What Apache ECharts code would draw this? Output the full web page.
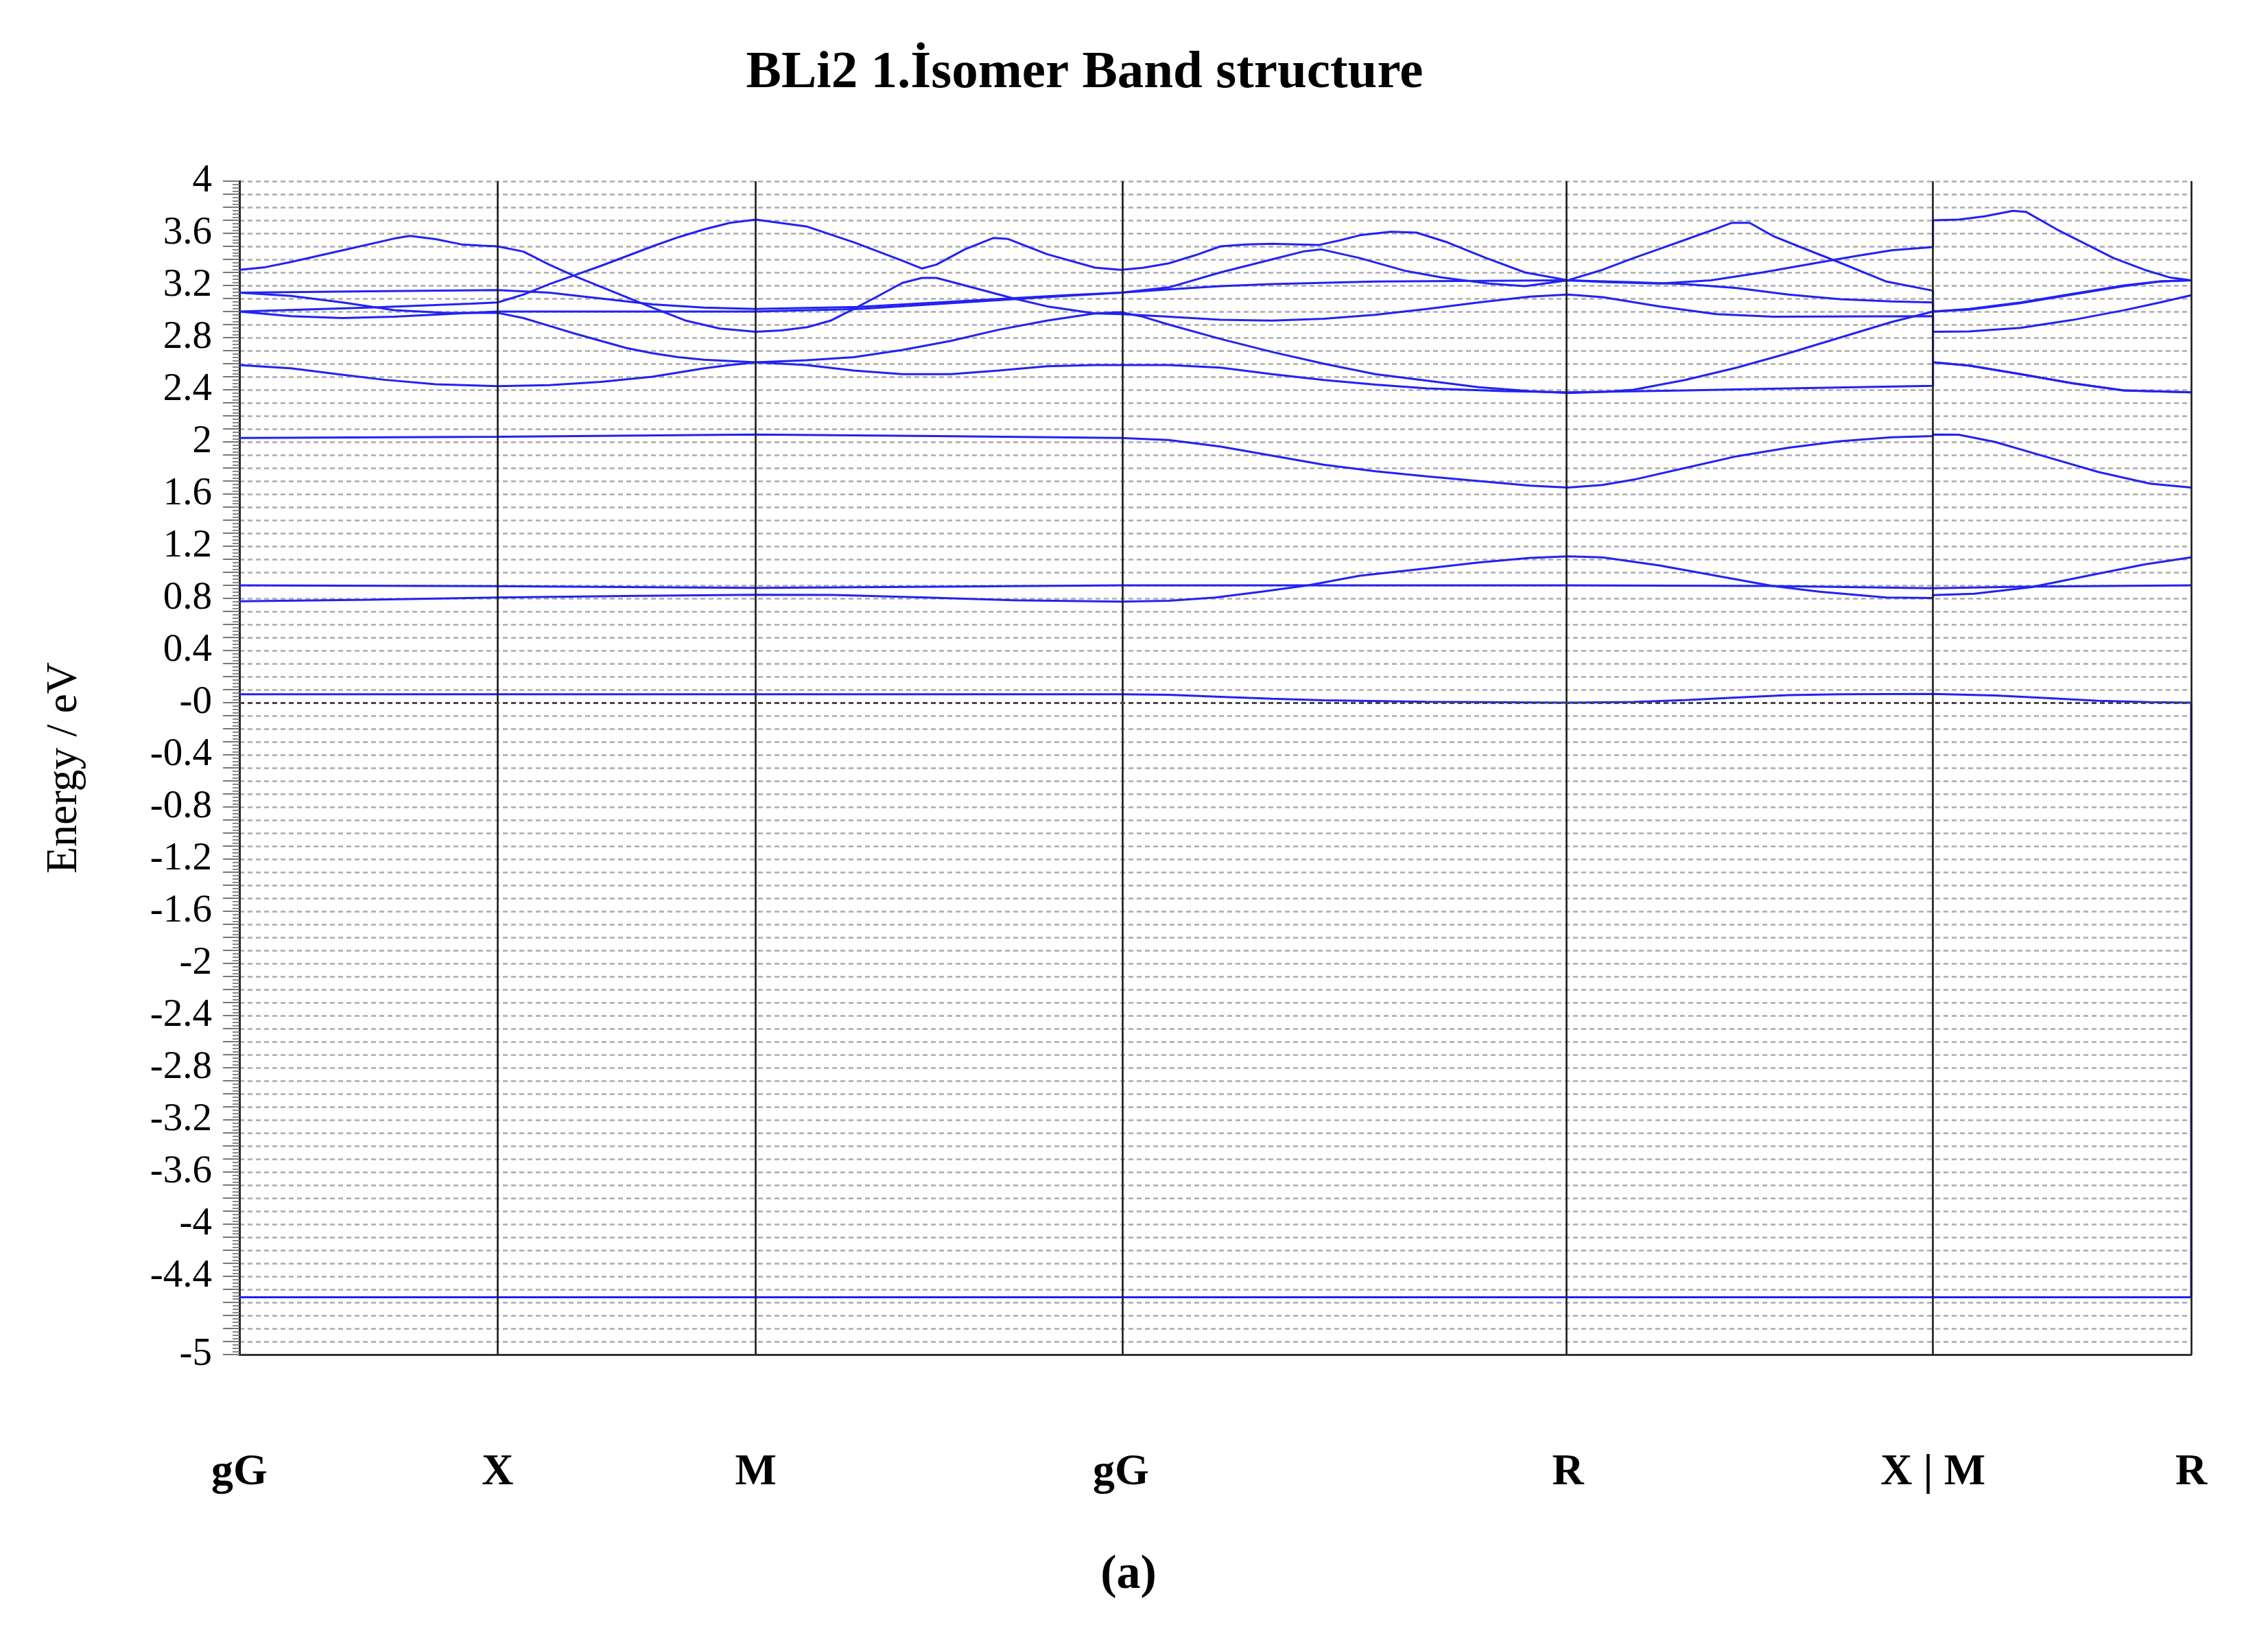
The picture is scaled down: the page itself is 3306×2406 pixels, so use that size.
<!DOCTYPE html>
<html>
<head>
<meta charset="utf-8">
<title>BLi2 1.İsomer Band structure</title>
<script src="https://cdn.jsdelivr.net/npm/echarts@6/dist/echarts.min.js"></script>
<style>
  html, body { margin: 0; padding: 0; background: #fff; overflow: hidden; }
  #chart { width: 3306px; height: 2406px; }
</style>
</head>
<body>
<div id="chart"></div>
<script>
// --- k-path (2π/a), high-symmetry points ---
const kTicks = [0, 0.5, 1.0, 1.7071, 2.5731, 3.2802, 3.7802];
const kLabels = ['gG', 'X', 'M', 'gG', 'R', 'X | M', 'R'];

// --- energy axis labels ---
const energyTickValues = [4, 3.6, 3.2, 2.8, 2.4, 2, 1.6, 1.2, 0.8, 0.4, 0, -0.4, -0.8, -1.2, -1.6, -2, -2.4, -2.8, -3.2, -3.6, -4, -4.4, -5];
const energyTickLabels = ['4', '3.6', '3.2', '2.8', '2.4', '2', '1.6', '1.2', '0.8', '0.4', '-0', '-0.4', '-0.8', '-1.2', '-1.6', '-2', '-2.4', '-2.8', '-3.2', '-3.6', '-4', '-4.4', '-5'];

const fermiLevel = 0;

// --- bands, [k, E (eV)] ---
const bandDeep = [[0, -4.56], [3.7802, -4.56]];

const bandNearZero = [[0, 0.065], [1.7071, 0.065], [1.8, 0.06], [1.9, 0.045], [2.0, 0.03], [2.1, 0.018], [2.3, 0.006],
  [2.5731, 0.0], [2.7, 0.005], [2.8, 0.02], [2.9, 0.04], [3.0, 0.058], [3.1, 0.065], [3.2802, 0.067],
  [3.2802, 0.067], [3.4, 0.055], [3.5, 0.035], [3.6, 0.015], [3.7, 0.004], [3.7802, 0.0]];

const bandLow1 = [[0, 0.777], [0.25, 0.79], [0.5, 0.807], [0.75, 0.818], [1.0, 0.828], [1.15, 0.826], [1.33, 0.807],
  [1.5, 0.785], [1.7071, 0.775], [1.8, 0.782], [1.89, 0.807], [1.98, 0.851], [2.07, 0.9], [2.17, 0.974], [2.3, 1.03],
  [2.4, 1.075], [2.5, 1.11], [2.5731, 1.123], [2.64, 1.114], [2.75, 1.053], [2.86, 0.974], [2.97, 0.895], [3.06, 0.851],
  [3.19, 0.807], [3.2802, 0.802], [3.2802, 0.825], [3.36, 0.835], [3.47, 0.886], [3.58, 0.974], [3.69, 1.061], [3.7802, 1.114]];

const bandLow2 = [[0, 0.9], [0.5, 0.893], [1.0, 0.88], [1.35, 0.89], [1.7071, 0.9], [2.5731, 0.9], [2.97, 0.895],
  [3.2802, 0.877], [3.2802, 0.877], [3.45, 0.89], [3.7802, 0.9]];

const bandC1 = [[0, 2.03], [0.5, 2.04], [1.0, 2.056], [1.35, 2.045], [1.7071, 2.03], [1.8, 2.015], [1.9, 1.965],
  [2.0, 1.895], [2.1, 1.825], [2.2, 1.775], [2.3, 1.735], [2.4, 1.70], [2.5, 1.665], [2.5731, 1.65], [2.64, 1.67],
  [2.7, 1.71], [2.8, 1.8], [2.9, 1.89], [3.0, 1.955], [3.1, 2.005], [3.2, 2.035], [3.2802, 2.045],
  [3.2802, 2.056], [3.33, 2.055], [3.4, 2.0], [3.5, 1.885], [3.6, 1.77], [3.7, 1.68], [3.7802, 1.65]];

const bandC2 = [[0, 2.59], [0.1, 2.565], [0.19, 2.52], [0.28, 2.477], [0.38, 2.442], [0.5, 2.428],
  [0.6, 2.435], [0.7, 2.46], [0.8, 2.5], [0.9, 2.565], [0.95, 2.59], [1.0, 2.61],
  [1.098, 2.59], [1.19, 2.547], [1.284, 2.52], [1.378, 2.52], [1.47, 2.547], [1.564, 2.58], [1.657, 2.59], [1.7071, 2.59],
  [1.8, 2.59], [1.9, 2.57], [2.0, 2.52], [2.1, 2.475], [2.2, 2.44], [2.3, 2.41], [2.45, 2.39], [2.5731, 2.38],
  [2.8, 2.395], [3.0, 2.41], [3.2802, 2.43],
  [3.2802, 2.61], [3.35, 2.585], [3.45, 2.52], [3.55, 2.45], [3.65, 2.395], [3.7802, 2.38]];

const bandC3 = [[0, 3.145], [0.1, 3.12], [0.2, 3.07], [0.3, 3.01], [0.4, 2.99], [0.5, 2.99],
  [0.55, 2.95], [0.6, 2.89], [0.65, 2.83], [0.7, 2.775], [0.75, 2.72], [0.8, 2.68], [0.85, 2.65], [0.9, 2.63], [1.0, 2.61],
  [1.098, 2.626], [1.19, 2.65], [1.284, 2.705], [1.378, 2.775], [1.47, 2.86], [1.564, 2.93], [1.657, 2.985], [1.7071, 2.995],
  [1.75, 2.96], [1.8, 2.9], [1.9, 2.79], [2.0, 2.69], [2.1, 2.6], [2.2, 2.52], [2.3, 2.47], [2.4, 2.42], [2.5, 2.39], [2.5731, 2.375],
  [2.65, 2.385], [2.7, 2.4], [2.8, 2.475], [2.9, 2.57], [3.0, 2.68], [3.1, 2.8], [3.2, 2.92], [3.2802, 3.0],
  [3.2802, 2.845], [3.35, 2.848], [3.45, 2.875], [3.55, 2.935], [3.65, 3.01], [3.72, 3.07], [3.7802, 3.125]];

const bandC4 = [[0, 3.0], [0.1, 2.965], [0.2, 2.95], [0.3, 2.96], [0.4, 2.98], [0.5, 3.0],
  [0.75, 3.0], [1.0, 3.0],
  [1.2, 3.02], [1.4, 3.07], [1.6, 3.12], [1.7071, 3.145],
  [1.8, 3.17], [1.9, 3.195], [2.0, 3.21], [2.2, 3.23], [2.5731, 3.24],
  [2.7, 3.225], [2.8, 3.21], [2.9, 3.18], [3.0, 3.13], [3.1, 3.095], [3.2, 3.078], [3.2802, 3.07],
  [3.2802, 3.0], [3.35, 3.015], [3.45, 3.065], [3.55, 3.13], [3.65, 3.195], [3.72, 3.23], [3.7802, 3.24]];

const bandC5 = [[0, 3.145], [0.25, 3.155], [0.5, 3.165],
  [0.6, 3.145], [0.7, 3.1], [0.8, 3.055], [0.9, 3.03], [1.0, 3.02],
  [1.2, 3.035], [1.4, 3.08], [1.6, 3.125], [1.7071, 3.145],
  [1.8, 3.185], [1.9, 3.3], [2.0, 3.4], [2.06, 3.46], [2.095, 3.477], [2.17, 3.41], [2.26, 3.31], [2.33, 3.26],
  [2.42, 3.215], [2.49, 3.195], [2.5731, 3.24],
  [2.65, 3.225], [2.75, 3.215], [2.85, 3.24], [2.95, 3.3], [3.05, 3.37], [3.13, 3.425], [3.2, 3.47], [3.2802, 3.495],
  [3.2802, 3.70], [3.33, 3.705], [3.38, 3.73], [3.435, 3.772], [3.46, 3.765], [3.52, 3.63], [3.58, 3.51], [3.63, 3.41],
  [3.69, 3.32], [3.74, 3.26], [3.7802, 3.24]];

const bandC6 = [[0, 3.0], [0.25, 3.03], [0.45, 3.06], [0.5, 3.07],
  [0.55, 3.13], [0.6, 3.21], [0.65, 3.28], [0.7, 3.35], [0.75, 3.425], [0.8, 3.5], [0.85, 3.57], [0.9, 3.63], [0.95, 3.68], [1.0, 3.705],
  [1.098, 3.653], [1.191, 3.53], [1.284, 3.39], [1.322, 3.33], [1.35, 3.36], [1.405, 3.477], [1.461, 3.565], [1.489, 3.556],
  [1.564, 3.44], [1.657, 3.337], [1.7071, 3.32],
  [1.75, 3.335], [1.8, 3.37], [1.85, 3.43], [1.9, 3.5], [1.95, 3.515], [2.0, 3.52], [2.09, 3.51], [2.13, 3.545], [2.17, 3.585],
  [2.23, 3.612], [2.28, 3.605], [2.34, 3.53], [2.415, 3.41], [2.49, 3.30], [2.5731, 3.24],
  [2.64, 3.32], [2.7, 3.41], [2.75, 3.48], [2.8, 3.55], [2.86, 3.635], [2.89, 3.68], [2.925, 3.68], [2.97, 3.58], [3.02, 3.5],
  [3.1, 3.375], [3.19, 3.23], [3.2802, 3.16],
  [3.2802, 3.0], [3.35, 3.02], [3.45, 3.07], [3.55, 3.135], [3.65, 3.2], [3.72, 3.232], [3.7802, 3.24]];

const bandC7 = [[0, 3.32], [0.05, 3.34], [0.1, 3.38], [0.2, 3.47], [0.3, 3.56], [0.33, 3.58], [0.38, 3.555], [0.43, 3.515],
  [0.47, 3.505], [0.5, 3.50],
  [0.55, 3.46], [0.6, 3.36], [0.65, 3.27], [0.7, 3.19], [0.75, 3.11], [0.8, 3.03], [0.865, 2.93], [0.93, 2.87], [1.0, 2.845],
  [1.05, 2.855], [1.1, 2.88], [1.145, 2.93], [1.19, 3.02], [1.24, 3.125], [1.284, 3.22], [1.322, 3.258], [1.35, 3.258],
  [1.424, 3.18], [1.5, 3.1], [1.564, 3.04], [1.657, 2.986], [1.7071, 2.98],
  [1.8, 2.96], [1.9, 2.937], [2.0, 2.93], [2.1, 2.945], [2.2, 2.975], [2.3, 3.02], [2.4, 3.07], [2.5, 3.115], [2.5731, 3.13],
  [2.64, 3.11], [2.75, 3.04], [2.86, 2.98], [2.97, 2.96], [3.2802, 2.965],
  [3.2802, 2.61], [3.35, 2.585], [3.45, 2.52], [3.55, 2.45], [3.65, 2.395], [3.7802, 2.38]];

const bands = [bandDeep, bandNearZero, bandLow1, bandLow2, bandC1, bandC2, bandC3, bandC4, bandC5, bandC6, bandC7];

const bandColor = '#2222f4';
const serifFont = "'Liberation Serif', 'DejaVu Serif', serif";

// the plotting program joins the lowest band to the next one at the path end
const kEnd = kTicks[kTicks.length - 1];
const endJoin = [[kEnd, bandDeep[bandDeep.length - 1][1]], [kEnd, bandNearZero[bandNearZero.length - 1][1]]];

const series = bands.map((b, i) => ({
  name: 'band' + (i + 1),
  type: 'line',
  data: b,
  symbol: 'none',
  silent: true,
  z: 4,
  lineStyle: { color: bandColor, width: 3 }
}));

series.push({
  name: 'join',
  type: 'line',
  data: endJoin,
  symbol: 'none',
  silent: true,
  z: 4,
  lineStyle: { color: bandColor, width: 3 }
});

// high-symmetry vertical lines and the Fermi level
series.push({
  name: 'guides',
  type: 'line',
  data: [],
  z: 2,
  markLine: {
    symbol: 'none',
    silent: true,
    animation: false,
    label: { show: false },
    data: kTicks.slice(1).map(k => ({ xAxis: k, lineStyle: { color: '#1a1a1a', width: 2.6, type: 'solid' } }))
      .concat([{ yAxis: fermiLevel, lineStyle: { color: '#444', width: 3, type: [7, 5] } }])
  }
});

function labelFor(values, labels, v) {
  let best = 0;
  for (let i = 1; i < values.length; i++) {
    if (Math.abs(values[i] - v) < Math.abs(values[best] - v)) best = i;
  }
  return labels[best];
}

const chart = echarts.init(document.getElementById('chart'));
chart.setOption({
  animation: false,
  backgroundColor: '#fff',
  title: [
    {
      text: 'BLi2 1.İsomer Band structure',
      left: 1576,
      top: 64,
      textAlign: 'center',
      textStyle: { fontFamily: serifFont, fontWeight: 'bold', fontSize: 77, color: '#000' }
    },
    {
      text: '(a)',
      left: 1640,
      top: 2256,
      textAlign: 'center',
      textStyle: { fontFamily: serifFont, fontWeight: 'bold', fontSize: 70, color: '#000' }
    }
  ],
  grid: {
    left: 349,
    right: 112,
    top: 264,
    bottom: 432,
    containLabel: false,
    outerBoundsMode: 'none'
  },
  xAxis: {
    type: 'value',
    min: 0,
    max: kEnd,
    axisLine: { show: true, onZero: false, lineStyle: { color: '#333', width: 3 } },
    axisTick: { show: false },
    splitLine: { show: false },
    axisLabel: {
      customValues: kTicks,
      showMinLabel: true,
      showMaxLabel: true,
      formatter: v => labelFor(kTicks, kLabels, v),
      fontFamily: serifFont,
      fontWeight: 'bold',
      fontSize: 64,
      color: '#000',
      margin: 140
    }
  },
  yAxis: {
    type: 'value',
    min: -5,
    max: 4,
    interval: 0.1,
    name: 'Energy / eV',
    nameLocation: 'middle',
    nameGap: 223,
    nameTextStyle: { fontFamily: serifFont, fontSize: 64, color: '#000' },
    axisLine: { show: true, onZero: false, lineStyle: { color: '#222', width: 3 } },
    axisTick: { show: true, length: 24, lineStyle: { color: '#777', width: 2 } },
    minorTick: { show: true, splitNumber: 4, length: 10, lineStyle: { color: '#888', width: 2 } },
    splitLine: { show: true, lineStyle: { color: '#ababab', width: 2.5, type: [7, 5] } },
    axisLabel: {
      customValues: energyTickValues,
      showMinLabel: true,
      showMaxLabel: true,
      formatter: v => labelFor(energyTickValues, energyTickLabels, v),
      fontFamily: serifFont,
      fontSize: 57,
      color: '#000',
      margin: 40
    }
  },
  series: series
});
</script>
</body>
</html>
